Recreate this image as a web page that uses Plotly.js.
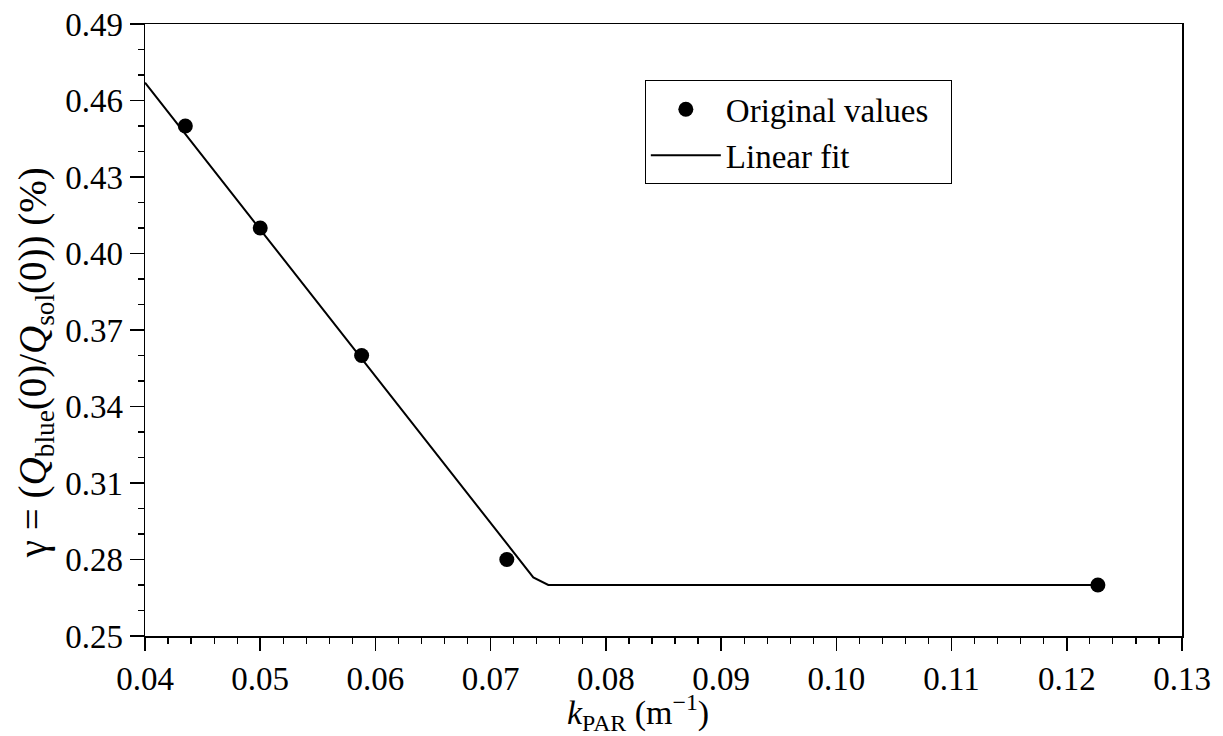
<!DOCTYPE html>
<html>
<head>
<meta charset="utf-8">
<script src="https://cdn.plot.ly/plotly-3.0.1.min.js"></script>
<style>html,body{margin:0;padding:0;background:#fff;}#chart{width:1223px;height:736px;}</style>
</head>
<body>
<div id="chart"></div>
<script>
// Original data points
const kPAR = [0.0435, 0.0500, 0.0588, 0.0714, 0.1227];
const gamma = [0.450, 0.410, 0.360, 0.280, 0.270];
// Piecewise linear fit
const fitX = [0.0400, 0.0737, 0.0750, 0.1227];
const fitY = [0.467, 0.273, 0.270, 0.270];
// Axis titles
const xTitle = '<i>k</i><sub>PAR</sub> (m<sup>−1</sup>)';
const yTitle = 'γ = (<i>Q</i><sub>blue</sub>(0)/<i>Q</i><sub>sol</sub>(0)) (%)';

const FONT = "'Liberation Serif', 'Times New Roman', Times, serif";
const NB = '\u00a0';

const traces = [
  {
    x: kPAR, y: gamma, mode: 'markers', type: 'scatter', name: 'Original values' + NB + NB,
    marker: {color: '#000', size: 15}
  },
  {
    x: fitX, y: fitY, mode: 'lines', type: 'scatter', name: 'Linear fit',
    line: {color: '#000', width: 2}
  }
];

const layout = {
  width: 1223, height: 736,
  margin: {l: 145, r: 41, t: 24, b: 100},
  paper_bgcolor: '#fff', plot_bgcolor: '#fff',
  font: {family: FONT, color: '#000', size: 32},
  showlegend: true,
  legend: {
    x: 0.482, y: 0.908, xanchor: 'left', yanchor: 'top',
    bordercolor: '#000', borderwidth: 1, bgcolor: '#fff',
    font: {family: FONT, size: 33, color: '#000'},
    tracegroupgap: 0, itemwidth: 70
  },
  xaxis: {
    range: [0.04, 0.13], dtick: 0.01, tick0: 0.04, tickformat: '.2f',
    showgrid: false, zeroline: false,
    showline: true, linecolor: '#000', linewidth: 1.5, mirror: true,
    ticks: 'outside', ticklen: 13, tickwidth: 1.5, tickcolor: '#000',
    minor: {dtick: 0.002, ticks: 'outside', ticklen: 6, tickwidth: 1.2, tickcolor: '#000', showgrid: false},
    tickfont: {family: FONT, size: 33, color: '#000'}
  },
  yaxis: {
    range: [0.25, 0.49], dtick: 0.03, tick0: 0.25, tickformat: '.2f',
    showgrid: false, zeroline: false,
    showline: true, linecolor: '#000', linewidth: 1.5, mirror: true,
    ticks: 'outside', ticklen: 14, tickwidth: 1.5, tickcolor: '#000',
    minor: {dtick: 0.01, ticks: 'outside', ticklen: 6, tickwidth: 1.2, tickcolor: '#000', showgrid: false},
    tickfont: {family: FONT, size: 33, color: '#000'}
  },
  annotations: [
    {text: xTitle, xref: 'paper', yref: 'paper', x: 0.4754, y: -0.125,
     xanchor: 'center', yanchor: 'middle', showarrow: false,
     font: {family: FONT, size: 34, color: '#000'}},
    {text: yTitle, xref: 'paper', yref: 'paper', x: -0.106, y: 0.446,
     xanchor: 'center', yanchor: 'middle', showarrow: false, textangle: -90,
     font: {family: FONT, size: 39, color: '#000'}}
  ]
};

Plotly.newPlot('chart', traces, layout, {displayModeBar: false, staticPlot: true});
</script>
</body>
</html>
